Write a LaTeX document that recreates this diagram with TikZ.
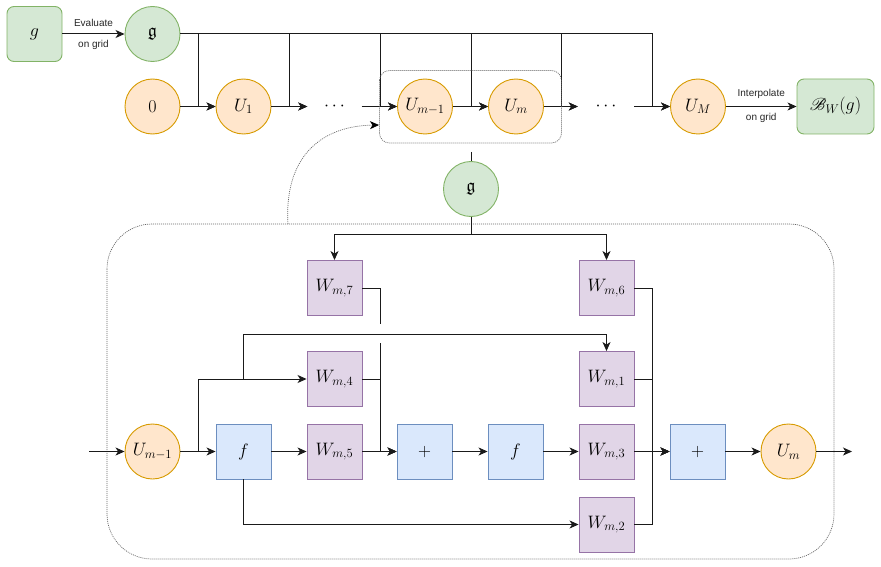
\RequirePackage{fix-cm}
\documentclass[tikz,border=0pt]{standalone}
\usepackage{amssymb}
\usepackage{mathrsfs}
\usepackage{fontspec}
\newfontfamily\lblfont{Liberation Sans}
\usetikzlibrary{arrows.meta}
\definecolor{gfill}{HTML}{D5E8D4}\definecolor{gline}{HTML}{82B366}
\definecolor{ofill}{HTML}{FFE6CC}\definecolor{oline}{HTML}{D79B00}
\definecolor{pfill}{HTML}{E1D5E7}\definecolor{pline}{HTML}{9673A6}
\definecolor{bfill}{HTML}{DAE8FC}\definecolor{bline}{HTML}{6C8EBF}
\definecolor{edge}{HTML}{1A1A1A}
\begin{document}
\begin{tikzpicture}[x=1pt,y=-1pt,
  every node/.style={font=\fontsize{18}{20}\selectfont, inner sep=0pt},
  circ/.style={circle, minimum size=55pt, line width=0.9pt},
  gcirc/.style={circ, draw=gline, fill=gfill},
  ocirc/.style={circ, draw=oline, fill=ofill},
  gbox/.style={rectangle, rounded corners=7pt, draw=gline, fill=gfill, line width=0.9pt, minimum height=55pt},
  pbox/.style={rectangle, minimum size=55pt, draw=pline, fill=pfill, line width=0.9pt},
  bbox/.style={rectangle, minimum size=55pt, draw=bline, fill=bfill, line width=0.9pt},
  dotsnode/.style={minimum height=20pt},
  lbl/.style={font=\lblfont\fontsize{10}{12}\selectfont, text=black!85},
  wire/.style={draw=edge, line width=1pt},
  arr/.style={wire, -{Stealth[length=9pt,width=8pt,inset=2.5pt]}},
  dotline/.style={draw=black!60, line width=0.7pt, dash pattern=on 1pt off 1pt},
]
\useasboundingbox (0,0) rectangle (881,567);

% ---------- top row ----------
\node[gbox, minimum width=55pt] (g) at (34.5,34) {$g$};
\node[gcirc] (gf) at (152.5,34) {$\mathfrak{g}$};
\node[ocirc] (zero) at (152.5,106.5) {$0$};
\node[ocirc] (U1) at (243.5,106.5) {$U_1$};
\node[dotsnode, minimum width=54pt] (d1) at (334.5,106.5) {$\cdots$};
\node[ocirc] (Um1) at (425,106.5) {$U_{m-1}$};
\node[ocirc] (Um) at (516,106.5) {$U_m$};
\node[dotsnode, minimum width=56pt] (d2) at (606,106.5) {$\cdots$};
\node[ocirc] (UM) at (698,106.5) {$U_M$};
\node[gbox, minimum width=77pt] (B) at (835.5,106.5) {$\mathscr{B}_W(g)$};

\draw[arr] (g) -- node[lbl, above=7pt] {Evaluate} node[lbl, below=6pt] {on grid} (gf);
\draw[arr] (UM) -- node[lbl, above=7pt] {Interpolate} node[lbl, below=6pt] {on grid} (B);

\draw[arr] (zero) -- (U1);
\draw[arr] (U1) -- (d1);
\draw[arr] (d1) -- (Um1);
\draw[arr] (Um1) -- (Um);
\draw[arr] (Um) -- (d2);
\draw[arr] (d2) -- (UM);

\draw[arr] (gf.east) -| (198,106.5) -- (U1.west);
\draw[arr] (gf.east) -| (289,106.5) -- (d1.west);
\draw[arr] (gf.east) -| (380,106.5) -- (Um1.west);
\draw[arr] (gf.east) -| (471,106.5) -- (Um.west);
\draw[arr] (gf.east) -| (561.5,106.5) -- (d2.west);
\draw[arr] (gf.east) -| (652,106.5) -- (UM.west);

% small dotted box
\draw[dotline, rounded corners=10pt] (379.5,70.5) rectangle (561.5,143);
\coordinate (zoomin) at (379,125);

% ---------- lower block ----------
\draw[dotline, rounded corners=45pt] (107,224) rectangle (834,559);
\coordinate (bigtop) at (288,224);
\draw[dotline, -{Stealth[length=9pt,width=8pt,inset=2.5pt,color=black]}] (bigtop) .. controls (284,160) and (318,126) .. (zoomin);

\node[gcirc] (g2) at (471,189) {$\mathfrak{g}$};
\coordinate (stub) at (471,152);
\draw[wire] (stub) -- (g2.north);

\node[pbox] (W7) at (334.5,288) {$W_{m,7}$};
\node[pbox] (W6) at (606.5,288) {$W_{m,6}$};
\node[pbox] (W4) at (334.5,379) {$W_{m,4}$};
\node[pbox] (W1) at (606.5,379) {$W_{m,1}$};
\node[pbox] (W5) at (334.5,451.5) {$W_{m,5}$};
\node[pbox] (W3) at (606.5,451.5) {$W_{m,3}$};
\node[pbox] (W2) at (606.5,524.5) {$W_{m,2}$};
\node[ocirc] (L1) at (152.5,451.5) {$U_{m-1}$};
\node[bbox] (f1) at (243.5,451.5) {$f$};
\node[bbox] (p1) at (424.5,451.5) {$+$};
\node[bbox] (f2) at (515.5,451.5) {$f$};
\node[bbox] (p2) at (697.5,451.5) {$+$};
\node[ocirc] (L2) at (788.5,451.5) {$U_m$};
\coordinate (inp) at (89,451.5);
\coordinate (outp) at (852,451.5);

\draw[arr] (g2.south) -- (471,234) -| (W7.north);
\draw[arr] (g2.south) -- (471,234) -| (W6.north);

\draw[arr] (inp) -- (L1);
\draw[arr] (L1) -- (f1);
\draw[arr] (L1.east) -- (198,451.5) |- (W4.west);
\draw[arr] (L1.east) -- (198,451.5) -- (198,379) -- (243.5,379) -- (243.5,334) -| (W1.north);
\draw[arr] (f1) -- (W5);
\draw[arr] (f1.south) |- (W2.west);
\draw[arr] (W5) -- (p1);
\draw[arr] (W4.east) -| (380,451.5) -- (p1.west);
\draw[wire] (W7.east) -| (380,324);
\coordinate (jump) at (380,343);
\draw[arr] (jump) -- (380,451.5) -- (p1.west);
\draw[arr] (p1) -- (f2);
\draw[arr] (f2) -- (W3);
\draw[arr] (W3) -- (p2);
\draw[arr] (W6.east) -| (652,451.5) -- (p2.west);
\draw[arr] (W1.east) -| (652,451.5) -- (p2.west);
\draw[arr] (W2.east) -| (652,451.5) -- (p2.west);
\draw[arr] (p2) -- (L2);
\draw[arr] (L2) -- (outp);
\end{tikzpicture}
\end{document}
